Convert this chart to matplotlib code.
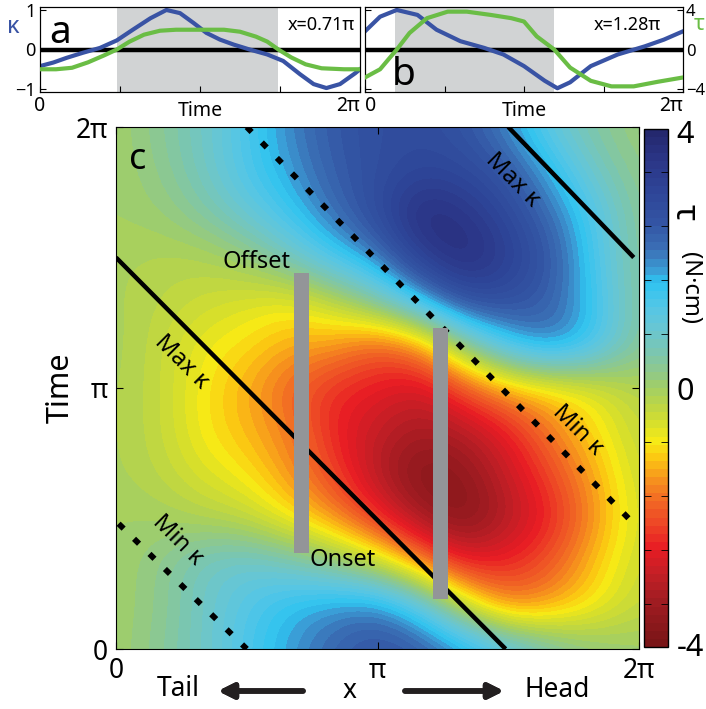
import numpy as np
import matplotlib
matplotlib.use("Agg")
import matplotlib.pyplot as plt
from matplotlib.colors import LinearSegmentedColormap
from matplotlib.ticker import FixedLocator

plt.rcParams['font.family'] = ['Noto Sans', 'DejaVu Sans']

PI = np.pi

# ---- panel c: torque map (N*cm), sampled every pi/6 in x (cols) and time (rows, bottom->top)
grid_pi = [0, 1/6, 2/6, 3/6, 4/6, 5/6, 1, 7/6, 8/6, 9/6, 10/6, 11/6, 2]
tau_map = [
    [0.0, 0.4, 0.9, 1.6, 2.2, 2.8, 3.2, 3.0, 2.4, 1.6, 0.8, 0.3, 0.1],
    [0.0, 0.3, 0.9, 1.5, 2.0, 2.3, 2.5, 1.5, -0.5, -1.9, -1.6, -1.0, -0.4],
    [0.0, 0.3, 0.9, 1.1, 0.8, 0.3, -0.5, -1.8, -3.0, -2.9, -2.3, -1.3, -0.5],
    [0.0, 0.0, -0.2, -0.4, -1.0, -1.7, -2.7, -3.9, -4.6, -3.7, -2.9, -1.7, -0.6],
    [-0.1, -0.3, -0.7, -1.0, -1.7, -2.5, -3.7, -4.6, -4.3, -3.4, -2.5, -1.5, -0.5],
    [-0.1, -0.4, -1.0, -1.4, -1.9, -2.9, -3.5, -3.9, -3.7, -3.0, -1.9, -1.1, -0.4],
    [-0.1, -0.4, -1.0, -1.5, -2.2, -2.8, -3.0, -3.4, -2.4, -1.5, -1.2, -0.8, -0.2],
    [-0.05, -0.4, -0.9, -1.1, -1.5, -1.6, -2.3, -1.7, 0.3, 1.8, 2.6, 1.8, 0.4],
    [-0.1, -0.3, -0.5, -0.7, -0.9, -0.4, 0.6, 1.9, 3.3, 3.3, 2.8, 1.8, 0.4],
    [-0.1, -0.2, -0.2, 0.1, 0.8, 1.7, 2.4, 3.9, 4.6, 3.9, 3.0, 1.6, 0.4],
    [0.0, 0.1, 0.5, 1.1, 1.8, 2.6, 3.4, 4.6, 4.2, 3.5, 2.6, 1.5, 0.35],
    [0.0, 0.3, 0.85, 1.6, 2.2, 2.9, 3.3, 3.6, 3.5, 3.0, 2.0, 0.9, 0.25],
    [0.0, 0.4, 0.9, 1.6, 2.4, 3.0, 3.3, 3.4, 3.1, 2.3, 1.2, 0.5, 0.1],
]

# curvature extrema lines (x, time) in units of pi
max_kappa_x = [[0.0, 1.49], [1.5, 1.98]]
max_kappa_t = [[1.5, 0.0], [2.0, 1.5]]
min_kappa_x = [[0.01, 0.5], [0.5, 1.98]]
min_kappa_t = [[0.48, 0.0], [2.0, 0.48]]

# activation bars (units of pi)
bar_x = [0.709, 1.241]
bar_start = [0.368, 0.19]
bar_end = [1.441, 1.23]

# ---- panel a (x = 0.71 pi)
a_t_kappa = [0, 0.083, 0.167, 0.27, 0.375, 0.48, 0.58, 0.69, 0.79, 0.875, 0.96, 1.04,
             1.125, 1.21, 1.31, 1.42, 1.52, 1.625, 1.71, 1.79, 1.875, 1.97, 2.0]
a_kappa = [-0.42, -0.33, -0.21, -0.08, 0.04, 0.23, 0.5, 0.79, 1.0, 0.92, 0.67, 0.42,
           0.25, 0.125, 0.0, -0.125, -0.29, -0.625, -0.875, -0.975, -0.875, -0.6, -0.5]
a_t_tau = [0, 0.1, 0.2, 0.3, 0.4, 0.48, 0.56, 0.65, 0.75, 0.85, 1.0, 1.15, 1.25, 1.35,
           1.42, 1.49, 1.57, 1.66, 1.76, 1.9, 2.0]
a_tau = [-2.0, -2.0, -1.85, -1.3, -0.6, 0.0, 0.8, 1.5, 1.9, 2.0, 2.0, 2.0, 1.8, 1.3,
         0.8, 0.0, -0.8, -1.5, -1.9, -2.0, -2.0]
a_active = [0.48, 1.485]

# ---- panel b (x = 1.28 pi)
b_t_kappa = [0, 0.095, 0.2, 0.33, 0.45, 0.6, 0.75, 0.87, 1.0, 1.13, 1.21, 1.29, 1.42,
             1.59, 1.76, 1.88, 2.0]
b_kappa = [0.46, 0.83, 1.0, 0.875, 0.5, 0.21, 0.04, -0.125, -0.42, -0.79, -0.98, -0.83,
           -0.42, -0.125, 0.08, 0.25, 0.46]
b_t_tau = [0, 0.095, 0.2, 0.28, 0.39, 0.52, 0.64, 0.79, 0.92, 1.0, 1.08, 1.19, 1.29,
           1.42, 1.55, 1.69, 1.84, 2.0]
b_tau = [-2.83, -2.0, 0.0, 1.67, 3.17, 3.83, 3.83, 3.5, 3.17, 2.83, 1.33, 0.0, -1.83,
         -3.17, -3.73, -3.73, -3.27, -2.83]
b_active = [0.19, 1.19]

BLUE = '#3953a4'
GREEN = '#6abd45'
SHADE = '#d1d3d4'
BAR = '#939598'

cmap_stops = [-4.8, -4.0, -3.5, -3.0, -2.5, -2.1, -1.7, -1.3, -1.0, -0.7, -0.3, 0.0,
              0.3, 0.7, 1.1, 1.5, 2.0, 2.2, 2.6, 3.1, 3.7, 4.3, 4.8]
cmap_cols = ['#7a1517', '#a11c22', '#c41f26', '#e81c24', '#ee4a26', '#f26b24', '#f7961d',
             '#fcc812', '#f7ea16', '#d9e02a', '#bad548', '#a2cf65', '#90c98a', '#7ac6b2',
             '#69c6d2', '#55c6e6', '#2ec4f1', '#3aa0d8', '#3b70b6', '#3355a4', '#2e4598',
             '#2b3586', '#24286e']
pos = [(s + 4.8) / 9.6 for s in cmap_stops]
cmap = LinearSegmentedColormap.from_list('tau', list(zip(pos, cmap_cols)), N=64)

fig = plt.figure(figsize=(7.06, 7.09), dpi=100)


def fx(px):
    return px / 706


def fy(py):
    return 1 - py / 709


ax_c = fig.add_axes([fx(116), fy(649), 523 / 706, 522 / 709])
cax = fig.add_axes([fx(644), fy(647), 24 / 706, 518 / 709])
ax_a = fig.add_axes([fx(40), fy(92), 320 / 706, 85 / 709])
ax_b = fig.add_axes([fx(365), fy(92), 318 / 706, 85 / 709])

# ---- main map
half = (grid_pi[1] - grid_pi[0]) * PI / 2
ext = [grid_pi[0] * PI - half, grid_pi[-1] * PI + half, grid_pi[0] * PI - half, grid_pi[-1] * PI + half]
im = ax_c.imshow(np.array(tau_map), origin='lower', extent=ext, cmap=cmap, vmin=-4.8, vmax=4.8,
                 interpolation='bicubic', aspect='auto')
ax_c.set_xlim(0, 2 * PI)
ax_c.set_ylim(0, 2 * PI)

for xs, ts in zip(max_kappa_x, max_kappa_t):
    ax_c.plot(np.array(xs) * PI, np.array(ts) * PI, color='k', lw=3.2, solid_capstyle='butt', zorder=4)
for xs, ts in zip(min_kappa_x, min_kappa_t):
    ax_c.plot(np.array(xs) * PI, np.array(ts) * PI, color='k', lw=4.2, linestyle=(0, (1.2, 2.5)),
              dash_capstyle='butt', zorder=4)

ax_c.bar(np.array(bar_x) * PI, (np.array(bar_end) - np.array(bar_start)) * PI,
         bottom=np.array(bar_start) * PI, width=0.057 * PI, color=BAR, zorder=5)

ax_c.set_xticks([0, PI, 2 * PI])
ax_c.set_xticklabels(['0', 'π', '2π'])
ax_c.set_yticks([0, PI, 2 * PI])
ax_c.set_yticklabels(['0', 'π', '2π'])
ax_c.tick_params(direction='in', length=5, top=True, right=True, labelsize=19, pad=6)
ax_c.set_ylabel('Time', fontsize=22, labelpad=0)

fig.text(fx(138), fy(160), 'c', fontsize=26, ha='center', va='center')
fig.text(fx(257), fy(262), 'Offset', fontsize=17, ha='center', va='center')
fig.text(fx(343), fy(560), 'Onset', fontsize=17, ha='center', va='center')
for px, py in [(182, 362), (513, 180)]:
    fig.text(fx(px), fy(py), 'Max κ', fontsize=17, rotation=-45, ha='center', va='center',
             rotation_mode='anchor')
for px, py in [(178, 540), (578, 430)]:
    fig.text(fx(px), fy(py), 'Min κ', fontsize=17, rotation=-45, ha='center', va='center',
             rotation_mode='anchor')

# ---- colorbar
cb = fig.colorbar(im, cax=cax)
cb.outline.set_linewidth(1)
cb.set_ticks([-4.75, 0, 4.75])
cb.set_ticklabels(['-4', '0', '4'])
cax.yaxis.set_minor_locator(FixedLocator([-4, -3, -2, -1, 0, 1, 2, 3, 4]))
cax.tick_params(which='major', length=0, labelsize=22, pad=6)
cax.tick_params(which='minor', direction='in', length=5, left=True, right=True)
fig.text(fx(684), fy(212), 'τ', fontsize=24, rotation=270, ha='center', va='center')
fig.text(fx(690), fy(288), '(N·cm)', fontsize=17, rotation=270, ha='center', va='center')

# ---- bottom axis annotation
fig.text(fx(178), fy(689), 'Tail', fontsize=19, ha='center', va='center')
fig.text(fx(350), fy(691), 'x', fontsize=19, ha='center', va='center')
fig.text(fx(557), fy(690), 'Head', fontsize=19, ha='center', va='center')
arrow = dict(arrowstyle='-|>', lw=4, color='#231f20', mutation_scale=22, shrinkA=0, shrinkB=0)
fig.add_artist(plt.annotate('', xy=(fx(218), fy(691)), xytext=(fx(303), fy(691)),
                            xycoords='figure fraction', textcoords='figure fraction', arrowprops=arrow))
fig.add_artist(plt.annotate('', xy=(fx(504), fy(691)), xytext=(fx(405), fy(691)),
                            xycoords='figure fraction', textcoords='figure fraction', arrowprops=arrow))


# ---- top panels
def trace_panel(ax, t_k, kap, t_tau, tau, active):
    ax.axvspan(active[0] * PI, active[1] * PI, color=SHADE, lw=0, zorder=0)
    ax.axhline(0, color='k', lw=3.2, zorder=1)
    ax.plot(np.array(t_k) * PI, kap, color=BLUE, lw=3, zorder=2)
    ax.set_xlim(0, 2 * PI)
    ax.set_ylim(-1.075, 1.075)
    ax.set_xticks([0, PI / 2, PI, 3 * PI / 2, 2 * PI])
    ax.set_xticklabels(['0', '', '', '', '2π'])
    ax.tick_params(direction='in', length=4, labelsize=14, pad=3)
    ax.set_xlabel('Time', fontsize=14, labelpad=-11)
    tw = ax.twinx()
    tw.plot(np.array(t_tau) * PI, tau, color=GREEN, lw=3, zorder=3)
    tw.set_ylim(-4.3, 4.3)
    return tw


tw_a = trace_panel(ax_a, a_t_kappa, a_kappa, a_t_tau, a_tau, a_active)
ax_a.set_yticks([-1, 0, 1])
ax_a.set_yticklabels(['−1', '0', '1'], fontsize=13)
ax_a.get_xticklabels()[-1].set_ha('right')
tw_a.set_yticks([])

tw_b = trace_panel(ax_b, b_t_kappa, b_kappa, b_t_tau, b_tau, b_active)
ax_b.set_yticks([-1, 0, 1])
ax_b.set_yticklabels([])
ax_b.get_xticklabels()[0].set_ha('left')
ax_b.get_xticklabels()[-1].set_ha('right')
tw_b.set_yticks([-4, 0, 4])
tw_b.set_yticklabels(['−4', '0', '4'], fontsize=12)
tw_b.tick_params(direction='in', length=4, pad=2)

fig.text(fx(13), fy(27), 'κ', color=BLUE, fontsize=17, ha='center', va='center')
fig.text(fx(699), fy(24), 'τ', color=GREEN, fontsize=16, ha='center', va='center')
fig.text(fx(60), fy(33), 'a', fontsize=28, ha='center', va='center')
fig.text(fx(404), fy(75), 'b', fontsize=28, ha='center', va='center')
fig.text(fx(321), fy(25), 'x=0.71π', fontsize=13, ha='center', va='center')
fig.text(fx(627), fy(25), 'x=1.28π', fontsize=13, ha='center', va='center')

fig.savefig('out.png', dpi=100)
